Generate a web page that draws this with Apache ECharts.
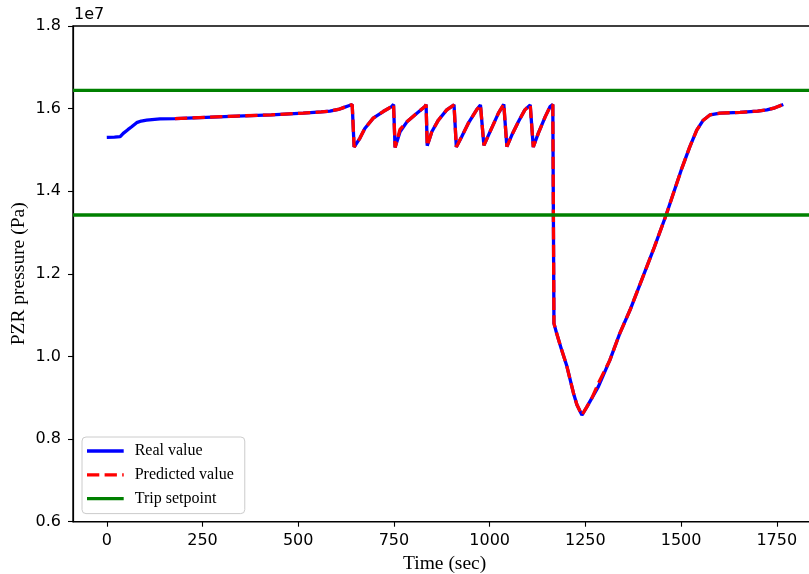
<!DOCTYPE html>
<html>
<head>
<meta charset="utf-8">
<script src="https://cdn.jsdelivr.net/npm/echarts@6/dist/echarts.min.js"></script>
<style>
  html, body { margin: 0; padding: 0; background: #fff; }
  #chart { width: 809px; height: 574px; }
</style>
</head>
<body>
<div id="chart"></div>
<script>
// Pressurizer pressure transient (values in units of 1e7 Pa)
const timeSec = [
  0, 20, 35, 43, 55, 65, 78, 90, 104, 139, 178, 260, 340, 430, 513, 560, 583, 605, 620, 632, 641,
  646, 661, 674, 696, 722, 744, 749,
  753, 766, 784, 810, 831, 834,
  837, 849, 866, 888, 907,
  913, 927, 944, 966, 976,
  985, 1005, 1023, 1037,
  1045, 1058, 1075, 1092, 1106,
  1114, 1127, 1145, 1158, 1165,
  1168, 1175, 1188, 1201, 1219, 1228, 1241, 1254, 1267, 1284, 1314, 1340, 1367, 1397, 1430,
  1461, 1502, 1523, 1541, 1558, 1576, 1602, 1654, 1700, 1724, 1745, 1767
];
const realValue = [
  1.5305, 1.531, 1.532, 1.540, 1.549, 1.556, 1.566, 1.570, 1.572, 1.575, 1.5756, 1.579, 1.582, 1.585, 1.589, 1.592, 1.594, 1.598, 1.603, 1.607, 1.610,
  1.507, 1.528, 1.552, 1.577, 1.593, 1.605, 1.610,
  1.506, 1.544, 1.568, 1.589, 1.605, 1.610,
  1.510, 1.544, 1.572, 1.597, 1.609,
  1.507, 1.532, 1.564, 1.597, 1.609,
  1.511, 1.552, 1.589, 1.610,
  1.508, 1.536, 1.568, 1.597, 1.609,
  1.507, 1.540, 1.580, 1.605, 1.610,
  1.080, 1.056, 1.016, 0.979, 0.911, 0.883, 0.858, 0.878, 0.899, 0.927, 0.991, 1.056, 1.113, 1.185, 1.264,
  1.3425, 1.4555, 1.508, 1.548, 1.572, 1.585, 1.589, 1.591, 1.594, 1.597, 1.602, 1.610
];
const predictedValue = [
  null, null, null, null, null, null, null, null, null, null, 1.5756, 1.579, 1.582, 1.585, 1.589, 1.592, 1.594, 1.598, 1.603, 1.607, 1.610,
  1.507, 1.528, 1.552, 1.577, 1.593, 1.605, 1.610,
  1.506, 1.550, 1.568, 1.589, 1.605, 1.610,
  1.510, 1.544, 1.572, 1.597, 1.609,
  1.507, 1.532, 1.564, 1.597, 1.609,
  1.511, 1.552, 1.589, 1.611,
  1.508, 1.536, 1.568, 1.597, 1.609,
  1.507, 1.540, 1.580, 1.605, 1.610,
  1.080, 1.056, 1.016, 0.979, 0.911, 0.883, 0.858, 0.878, 0.899, 0.935, 0.991, 1.056, 1.113, 1.185, 1.264,
  1.3425, 1.4555, 1.508, 1.548, 1.572, 1.585, 1.589, 1.591, 1.594, 1.597, 1.602, 1.610
];
const tripHigh = 1.6443;
const tripLow = 1.3425;
const xTicks = [0, 250, 500, 750, 1000, 1250, 1500, 1750];
const yTicks = [0.6, 0.8, 1.0, 1.2, 1.4, 1.6, 1.8];

const X_MIN = -88.25, X_MAX = 1853.25;
const pair = (vals) => timeSec.map((t, i) => [t, vals[i]]);

// legend glyphs: a plain stroke and a dashed stroke
const solidIcon = 'path://M0,0H367V33H0Z';
const dashedIcon = 'path://M0,0H123V33H0Z M176,0H299V33H176Z M352,0H367V33H352Z';

const tickFont = { fontFamily: 'DejaVu Sans', fontSize: 16, color: '#000' };
const serif = 'Liberation Serif';

const chart = echarts.init(document.getElementById('chart'), null, { renderer: 'canvas' });
chart.setOption({
  animation: false,
  backgroundColor: '#fff',
  grid: {
    left: 73, top: 26, width: 743.3, height: 495.7,
    containLabel: false, outerBoundsMode: 'none',
    show: true, borderColor: '#000', borderWidth: 1.4, backgroundColor: 'transparent'
  },
  graphic: [{
    type: 'text', left: 74, top: 7,
    style: { text: '1e7', font: '16px "DejaVu Sans"', fill: '#000' }
  }],
  xAxis: {
    type: 'value', min: X_MIN, max: X_MAX,
    name: 'Time (sec)', nameLocation: 'middle', nameGap: 30,
    nameTextStyle: { fontFamily: serif, fontSize: 19.5, color: '#000' },
    axisLine: { show: true, onZero: false, lineStyle: { color: '#000', width: 1.2 } },
    axisTick: { show: true, length: 5, lineStyle: { color: '#000', width: 1.1 }, customValues: xTicks },
    axisLabel: Object.assign({ margin: 11, customValues: xTicks, formatter: v => String(v) }, tickFont),
    splitLine: { show: false }
  },
  yAxis: {
    type: 'value', min: 0.6, max: 1.8,
    name: 'PZR pressure (Pa)', nameLocation: 'middle', nameGap: 44, nameRotate: 90,
    nameMoveOverlap: false,
    nameTextStyle: { fontFamily: serif, fontSize: 19.5, color: '#000' },
    axisLine: { show: true, onZero: false, lineStyle: { color: '#000', width: 1.2 } },
    axisTick: { show: true, length: 5, lineStyle: { color: '#000', width: 1.1 }, customValues: yTicks },
    axisLabel: Object.assign({ margin: 12, customValues: yTicks, formatter: v => v.toFixed(1) }, tickFont),
    splitLine: { show: false }
  },
  legend: {
    orient: 'vertical', left: 82, top: 437,
    data: [
      { name: 'Real value', icon: solidIcon },
      { name: 'Predicted value', icon: dashedIcon },
      { name: 'Trip setpoint', icon: solidIcon }
    ],
    itemWidth: 36.7, itemHeight: 3.3, itemGap: 5.8,
    padding: [5, 11, 6, 5],
    backgroundColor: 'rgba(255,255,255,0.8)',
    borderColor: '#cccccc', borderWidth: 1, borderRadius: 4,
    textStyle: { fontFamily: serif, fontSize: 16, lineHeight: 18, color: '#000', padding: [0, 0, 0, 6] }
  },
  series: [
    {
      name: 'Real value', type: 'line', data: pair(realValue),
      showSymbol: false, symbol: 'none', connectNulls: false,
      lineStyle: { color: '#0000ff', width: 3.3 }, itemStyle: { color: '#0000ff' }
    },
    {
      name: 'Predicted value', type: 'line', data: pair(predictedValue),
      showSymbol: false, symbol: 'none', connectNulls: false,
      lineStyle: { color: '#ff0000', width: 3.3, type: [12.3, 5.3] }, itemStyle: { color: '#ff0000' }
    },
    {
      name: 'Trip setpoint', type: 'line', data: [[X_MIN, tripHigh], [X_MAX, tripHigh]],
      showSymbol: false, symbol: 'none',
      lineStyle: { color: '#008000', width: 3.3 }, itemStyle: { color: '#008000' }
    },
    {
      name: 'Trip setpoint', type: 'line', data: [[X_MIN, tripLow], [X_MAX, tripLow]],
      showSymbol: false, symbol: 'none',
      lineStyle: { color: '#008000', width: 3.3 }, itemStyle: { color: '#008000' }
    }
  ]
});
</script>
</body>
</html>
